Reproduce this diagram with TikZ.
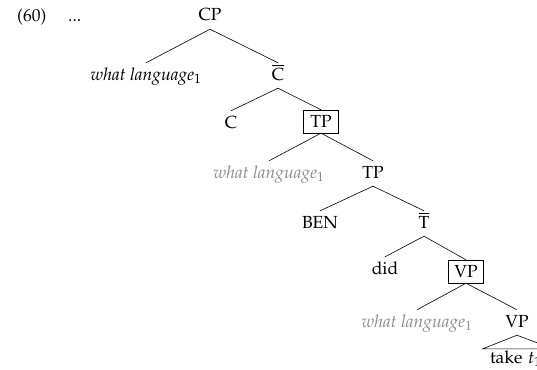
\documentclass[tikz,border=0pt]{standalone}
\usepackage[T1]{fontenc}
\usepackage{mathpazo}
\begin{document}
\begin{tikzpicture}[x=1pt,y=-1pt,
  every node/.style={font=\fontsize{17.5}{21}\selectfont},
  lab/.style={anchor=base,text height=10pt,text depth=1pt,inner ysep=7pt,inner xsep=2pt},
  boxed/.style={draw,thin,anchor=center,minimum width=35pt,minimum height=23pt,inner sep=0pt},
  trace/.style={lab,text=black!45},
  branch/.style={draw,line width=0.6pt}]
\useasboundingbox (0,0) rectangle (537,369);
\node[anchor=base west,inner sep=0pt] (ex) at (17,22) {(60)};
\node[anchor=base west,inner sep=0pt] (dots) at (68,22) {...};
\node[lab] (cp) at (210,21) {CP};
\node[lab] (wl1) at (146,80) {\textit{what language}$_1$};
\node[lab] (cbar) at (278,80) {$\overline{\mbox{C}}$};
\node[lab] (c) at (231,128) {C};
\node[boxed] (tpbox) at (321,121.5) {TP};
\node[trace] (wl2) at (269,178) {\textit{what language}$_1$};
\node[lab] (tp) at (373,178) {TP};
\node[lab] (ben) at (320,228) {BEN};
\node[lab] (tbar) at (424,228) {$\overline{\mbox{T}}$};
\node[lab] (did) at (385,274) {did};
\node[boxed] (vpbox) at (466,271.5) {VP};
\node[trace] (wl3) at (417,327) {\textit{what language}$_1$};
\node[lab] (vp) at (517,327) {VP};
\node[anchor=base,text height=10pt,text depth=1pt,inner ysep=4pt,inner xsep=7pt,text width=56pt,align=left] (take) at (518,363) {take \textit{t}$_1$};
\path[branch] (cp.south) -- (wl1.north);
\path[branch] (cp.south) -- (cbar.north);
\path[branch] (cbar.south) -- (c.north);
\path[branch] (cbar.south) -- (tpbox.north);
\path[branch] (tpbox.south) -- (wl2.north);
\path[branch] (tpbox.south) -- (tp.north);
\path[branch] (tp.south) -- (ben.north);
\path[branch] (tp.south) -- (tbar.north);
\path[branch] (tbar.south) -- (did.north);
\path[branch] (tbar.south) -- (vpbox.north);
\path[branch] (vpbox.south) -- (wl3.north);
\path[branch] (vpbox.south) -- (vp.north);
\path[branch] (vp.south) -- (take.north west) -- (take.north east) -- cycle;
\end{tikzpicture}
\end{document}
